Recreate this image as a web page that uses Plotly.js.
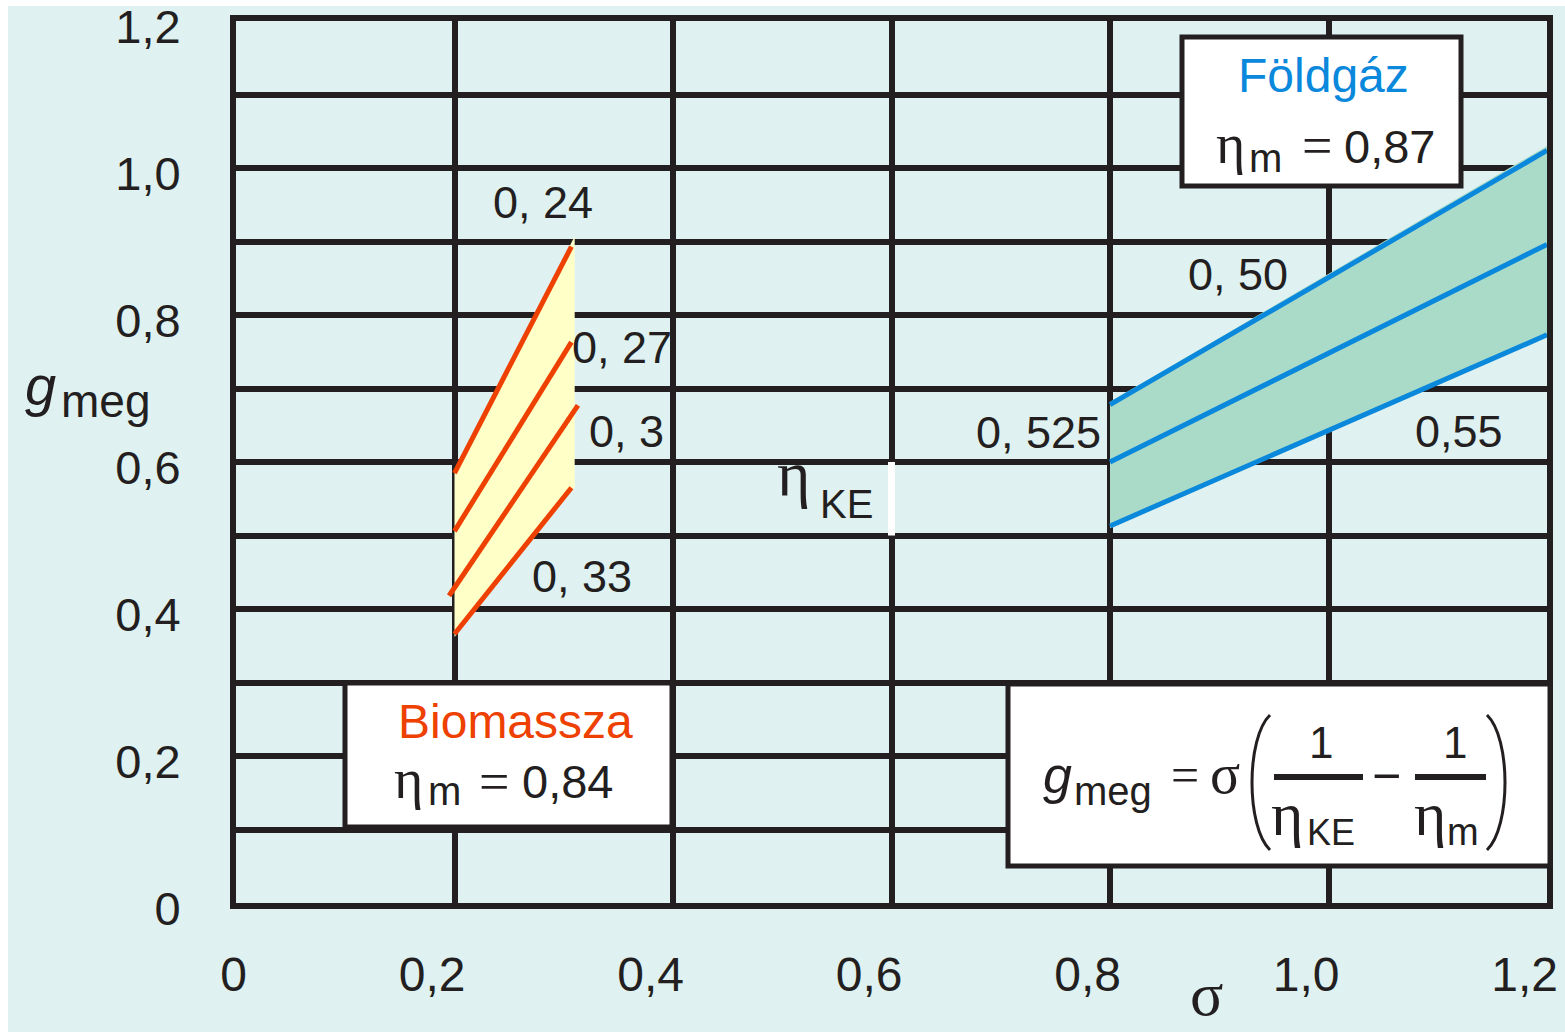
<!DOCTYPE html>
<html>
<head>
<meta charset="utf-8">
<script src="https://cdn.plot.ly/plotly-3.0.1.min.js"></script>
<style>
  html, body { margin: 0; padding: 0; background: #ffffff; }
  #chart { width: 1565px; height: 1032px; }
</style>
</head>
<body>
<div id="chart"></div>
<script>
// ---------------- data ----------------
const xTickVals = [0, 0.2, 0.4, 0.6, 0.8, 1.0, 1.2];
const xTickText = ['0', '0,2', '0,4', '0,6', '0,8', '1,0', '1,2'];
const yTickVals = [0, 0.2, 0.4, 0.6, 0.8, 1.0, 1.2];
const yTickText = ['0', '0,2', '0,4', '0,6', '0,8', '1,0', '1,2'];

// Biomassza (eta_m = 0,84): lines for eta_KE = 0,24 / 0,27 / 0,3 / 0,33
const bioLabels = ['0, 24', '0, 27', '0, 3', '0, 33'];
const bioSigma = [0.2, 0.307];
const bioG024 = [0.585, 0.893];
const bioG027 = [0.506, 0.763];
const bioSigma030 = [0.195, 0.313];
const bioG030 = [0.418, 0.677];
const bioG033 = [0.366, 0.565];
const bioFillSigma = [0.2, 0.31, 0.31, 0.2];
const bioFillG = [0.585, 0.907, 0.566, 0.362];

// Földgáz (eta_m = 0,87): lines for eta_KE = 0,50 / 0,525 / 0,55
const gasLabels = ['0, 50', '0, 525', '0,55'];
const gasSigma = [0.8, 1.2];
const gasG050 = [0.678, 1.024];
const gasG0525 = [0.600, 0.896];
const gasG055 = [0.513, 0.773];
const gasFillSigma = [0.8, 1.2, 1.2, 0.8];
const gasFillG = [0.682, 1.03, 0.77, 0.51];

// white marker segment next to the eta_KE label
const keMarkSigma = [0.6, 0.6];
const keMarkG = [0.5, 0.6];

// ---------------- styles ----------------
const INK = '#231f20';
const RED = '#ee4000';
const BLUE = '#0a88dc';
const TEAL = '#aadbc8';
const YELLOW = '#ffffc8';
const BG = '#dff1f1';
const SANS = 'Liberation Sans, Arial, sans-serif';
const SERIF = 'Liberation Serif, Times New Roman, serif';

// plot area in page pixels (layout only); frame lines sit 3px outside
const L = 236, R = 1547, T = 21, B = 903;
const px = x => (x - L) / (R - L);
const py = y => (B - y) / (B - T);

function txt(text, cx, base, size, o) {
  o = o || {};
  const k = o.serif ? 0.3375 : 0.3465;
  const yc = (o.mid !== undefined) ? o.mid : (base - k * size);
  return {
    xref: 'paper', yref: 'paper', x: px(cx), y: py(yc),
    xanchor: 'center', yanchor: 'middle', showarrow: false,
    text: text, borderpad: 0,
    font: { family: o.serif ? SERIF : SANS, size: size, color: o.color || INK,
            style: o.italic ? 'italic' : 'normal' }
  };
}

function line(xs, ys, color, width) {
  return { x: xs, y: ys, mode: 'lines', type: 'scatter', hoverinfo: 'skip',
           line: { color: color, width: width }, showlegend: false };
}

const traces = [
  { x: bioFillSigma, y: bioFillG, type: 'scatter', mode: 'lines', fill: 'toself',
    fillcolor: YELLOW, line: { width: 0, color: YELLOW }, hoverinfo: 'skip', showlegend: false },
  { x: gasFillSigma, y: gasFillG, type: 'scatter', mode: 'lines', fill: 'toself',
    fillcolor: TEAL, line: { width: 0, color: TEAL }, hoverinfo: 'skip', showlegend: false },
  line(bioSigma, bioG024, RED, 5),
  line(bioSigma, bioG027, RED, 5),
  line(bioSigma030, bioG030, RED, 5),
  line(bioSigma, bioG033, RED, 5),
  line(gasSigma, gasG050, BLUE, 5),
  line(gasSigma, gasG0525, BLUE, 5),
  line(gasSigma, gasG055, BLUE, 5),
  line(keMarkSigma, keMarkG, '#ffffff', 7)
];

function pth(pts) {
  return 'M' + px(pts[0][0]) + ',' + py(pts[0][1]) +
    ' C' + px(pts[1][0]) + ',' + py(pts[1][1]) + ' ' +
    px(pts[2][0]) + ',' + py(pts[2][1]) + ' ' +
    px(pts[3][0]) + ',' + py(pts[3][1]);
}

const shapes = [
  { type: 'rect', xref: 'paper', yref: 'paper', layer: 'below',
    x0: px(8), x1: px(1575), y0: py(6), y1: py(1045),
    fillcolor: BG, line: { width: 0 } },
  { type: 'rect', xref: 'paper', yref: 'paper', layer: 'above',
    x0: px(1182), x1: px(1461), y0: py(186), y1: py(37),
    fillcolor: '#ffffff', line: { color: INK, width: 5 } },
  { type: 'rect', xref: 'paper', yref: 'paper', layer: 'above',
    x0: px(345), x1: px(672), y0: py(827), y1: py(683),
    fillcolor: '#ffffff', line: { color: INK, width: 5 } },
  { type: 'rect', xref: 'paper', yref: 'paper', layer: 'above',
    x0: px(1008), x1: px(1550), y0: py(866), y1: py(684),
    fillcolor: '#ffffff', line: { color: INK, width: 5 } },
  { type: 'line', xref: 'paper', yref: 'paper', layer: 'above',
    x0: px(1274), x1: px(1363), y0: py(777), y1: py(777), line: { color: INK, width: 6 } },
  { type: 'line', xref: 'paper', yref: 'paper', layer: 'above',
    x0: px(1415), x1: px(1486), y0: py(777), y1: py(777), line: { color: INK, width: 6 } },
  { type: 'path', xref: 'paper', yref: 'paper', layer: 'above',
    path: pth([[1270, 715], [1246, 738], [1246, 827], [1270, 850]]),
    line: { color: INK, width: 3 } },
  { type: 'path', xref: 'paper', yref: 'paper', layer: 'above',
    path: pth([[1487, 715], [1511, 738], [1511, 827], [1487, 850]]),
    line: { color: INK, width: 3 } }
];

const annotations = [
  txt(bioLabels[0], 543, 218, 45),
  txt(bioLabels[1], 622, 363, 45),
  txt(bioLabels[2], 626, 447, 45),
  txt(bioLabels[3], 582, 592, 45),
  txt(gasLabels[0], 1238, 290, 45),
  txt(gasLabels[1], 1038, 448, 45),
  txt(gasLabels[2], 1459, 447, 45),
  // eta_KE label in the plot
  txt('η', 793, 495, 64, { serif: true }),
  txt('KE', 846, 518, 40),
  // axis titles
  txt('g', 40, 405, 56, { italic: true }),
  txt('meg', 105, 417, 46),
  txt('σ', 1206, 1015, 62, { serif: true }),
  // Biomassza box
  txt('Biomassza', 515, 738, 48, { color: RED }),
  txt('η', 408, 798, 56, { serif: true }),
  txt('m', 444, 805, 40),
  txt('=', 494, 0, 54, { serif: true, mid: 782 }),
  txt('0,84', 567, 798, 47),
  // Földgáz box
  txt('Földgáz', 1323, 92, 48, { color: BLUE }),
  txt('η', 1230, 163, 56, { serif: true }),
  txt('m', 1265, 172, 40),
  txt('=', 1317, 0, 54, { serif: true, mid: 146 }),
  txt('0,87', 1389, 163, 47),
  // formula box
  txt('g', 1057, 793, 52, { italic: true }),
  txt('meg', 1113, 805, 40),
  txt('=', 1185, 0, 50, { serif: true, mid: 775 }),
  txt('σ', 1225, 793, 56, { serif: true }),
  txt('1', 1321, 758, 44),
  txt('1', 1455, 758, 44),
  txt('−', 1386, 0, 50, { mid: 776 }),
  txt('η', 1287, 835, 62, { serif: true }),
  txt('KE', 1331, 845, 36),
  txt('η', 1430, 835, 62, { serif: true }),
  txt('m', 1463, 845, 38)
];

const layout = {
  width: 1565, height: 1032, autosize: false,
  margin: { l: L, r: 1565 - R, t: T, b: 1032 - B, pad: 0 },
  paper_bgcolor: '#ffffff',
  plot_bgcolor: 'rgba(0,0,0,0)',
  showlegend: false,
  xaxis: {
    range: [0, 1.2], tickmode: 'array', tickvals: xTickVals, ticktext: xTickText,
    showgrid: true, gridcolor: INK, gridwidth: 6, zeroline: false,
    showline: true, mirror: true, linecolor: INK, linewidth: 6,
    ticks: '', ticklabelposition: 'outside left', ticklabelshift: 14, ticklabelstandoff: 24,
    ticklabeloverflow: 'allow',
    tickfont: { family: SANS, size: 48, color: INK }, fixedrange: true
  },
  yaxis: {
    range: [0, 1.2], tickmode: 'array', tickvals: yTickVals, ticktext: yTickText,
    showgrid: true, gridcolor: INK, gridwidth: 6, zeroline: false,
    showline: true, mirror: true, linecolor: INK, linewidth: 6,
    minor: { tick0: 0, dtick: 0.1, showgrid: true, gridcolor: INK, gridwidth: 6, ticks: '' },
    ticks: '', ticklabelstandoff: 40, ticklabelshift: 6, ticklabeloverflow: 'allow',
    tickfont: { family: SANS, size: 47, color: INK }, fixedrange: true
  },
  shapes: shapes,
  annotations: annotations
};

Plotly.newPlot('chart', traces, layout, { staticPlot: true, displayModeBar: false });
</script>
</body>
</html>
